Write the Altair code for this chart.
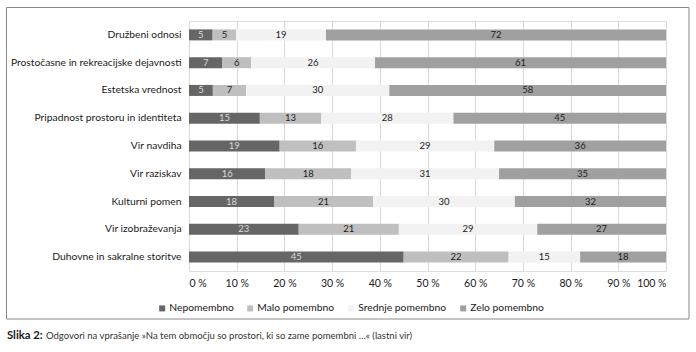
import altair as alt
import pandas as pd

categories = [
    "Družbeni odnosi",
    "Prostočasne in rekreacijske dejavnosti",
    "Estetska vrednost",
    "Pripadnost prostoru in identiteta",
    "Vir navdiha",
    "Vir raziskav",
    "Kulturni pomen",
    "Vir izobraževanja",
    "Duhovne in sakralne storitve",
]
series = ["Nepomembno", "Malo pomembno", "Srednje pomembno", "Zelo pomembno"]
nepomembno = [5, 7, 5, 15, 19, 16, 18, 23, 45]
malo_pomembno = [5, 6, 7, 13, 16, 18, 21, 21, 22]
srednje_pomembno = [19, 26, 30, 28, 29, 31, 30, 29, 15]
zelo_pomembno = [72, 61, 58, 45, 36, 35, 32, 27, 18]
tick_values = [0, 0.1, 0.2, 0.3, 0.4, 0.5, 0.6, 0.7, 0.8, 0.9, 1.0]
colors = ["#666666", "#bfbfbf", "#f2f2f2", "#a0a0a0"]
caption_bold = "Slika 2:"
caption_rest = "Odgovori na vprašanje »Na tem območju so prostori, ki so zame pomembni …« (lastni vir)"

FONT = "Lato"

rows = []
for si, (name, vals) in enumerate(zip(series, [nepomembno, malo_pomembno, srednje_pomembno, zelo_pomembno])):
    for c, v in zip(categories, vals):
        rows.append({"category": c, "series": name, "order": si, "value": v})
df = pd.DataFrame(rows)

base = alt.Chart(df).transform_stack(
    stack="value",
    groupby=["category"],
    as_=["start", "end"],
    sort=[alt.SortField("order")],
    offset="normalize",
).transform_calculate(mid="(datum.start + datum.end) / 2")

y_enc = alt.Y(
    "category:N",
    sort=categories,
    scale=alt.Scale(paddingInner=0, paddingOuter=0),
    axis=alt.Axis(
        title=None, domain=False, ticks=False, labelPadding=8, labelLimit=400,
        labelFontSize=10.3, labelColor="#1a1a1a", labelFont=FONT,
    ),
)

bars = base.mark_bar(size=11).encode(
    y=y_enc,
    x=alt.X(
        "start:Q",
        scale=alt.Scale(domain=[0, 1]),
        axis=alt.Axis(
            values=tick_values,
            labelExpr="round(datum.value * 100) + ' %'",
            grid=True, gridColor="#d9d9d9", gridWidth=1,
            domain=False, ticks=False, title=None, labelPadding=7,
            labelFontSize=10.5, labelColor="#1a1a1a", labelFont=FONT,
        ),
    ),
    x2="end:Q",
    color=alt.Color(
        "series:N",
        sort=series,
        scale=alt.Scale(domain=series, range=colors),
        legend=alt.Legend(
            title=None, orient="none", direction="horizontal",
            legendX=-32, legendY=282,
            symbolType="square", symbolSize=36, symbolStrokeWidth=0,
            labelFontSize=10.3, labelFont=FONT, labelColor="#1a1a1a",
            labelOffset=2, columnPadding=11,
        ),
    ),
)

labels = base.mark_text(fontSize=9.5, font=FONT, baseline="middle", align="center").encode(
    y=alt.Y("category:N", sort=categories),
    x=alt.X("mid:Q"),
    text=alt.Text("value:Q"),
    color=alt.condition("datum.order == 0", alt.value("#d9d9d9"), alt.value("#222222")),
)

one = pd.DataFrame({"a": [0]})
frame = alt.Chart(one).mark_rect(filled=False, stroke="#8a8a8a", strokeWidth=1).encode(
    x=alt.value(-182.5), x2=alt.value(500), y=alt.value(-13.5), y2=alt.value(298)
)
cap1 = alt.Chart(one).mark_text(
    align="left", baseline="middle", fontSize=11.3, font=FONT, fontWeight="bold", color="#1a1a1a"
).encode(x=alt.value(-182), y=alt.value(315), text=alt.value(caption_bold))
cap2 = alt.Chart(one).mark_text(
    align="left", baseline="middle", fontSize=9.5, font=FONT, color="#333333"
).encode(x=alt.value(-143), y=alt.value(315), text=alt.value(caption_rest))

chart = alt.layer(frame, bars, labels, cap1, cap2).properties(
    width=477, height=250,
    autosize=alt.AutoSizeParams(type="none"),
    padding={"left": 189, "top": 21, "right": 30, "bottom": 81},
).configure_view(stroke=None).configure(background="white")

chart.save("out.html", embed_options={"renderer": "svg", "actions": False})
